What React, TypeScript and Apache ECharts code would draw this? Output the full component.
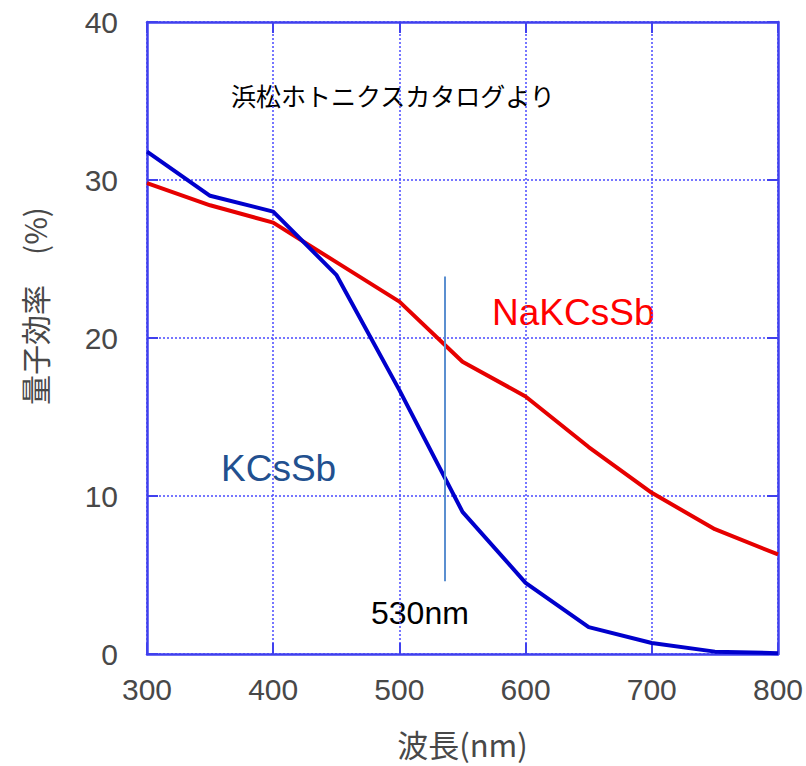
import React, { useEffect, useRef } from "react";
import * as echarts from "echarts";

const wavelengths = [300, 350, 400, 450, 500, 550, 600, 650, 700, 750, 800];
const kcssb = [31.8, 29.0, 28.0, 24.0, 16.7, 9.0, 4.5, 1.7, 0.7, 0.15, 0.05];
const nakcssb = [29.8, 28.4, 27.3, 24.8, 22.3, 18.5, 16.3, 13.1, 10.2, 7.9, 6.3];
const markerX = 536;
const markerRange = [4.6, 23.9];
const xTicks = { min: 300, max: 800, interval: 100 };
const yTicks = { min: 0, max: 40, interval: 10 };

const AXIS_BLUE = "#4040ee";
const GRID_BLUE = "#4a4aff";

export default function App() {
  const ref = useRef<HTMLDivElement>(null);
  useEffect(() => {
    if (!ref.current) return;
    const chart = echarts.init(ref.current, undefined, { renderer: "svg" });
    const axisLine = { show: true, onZero: false, lineStyle: { color: AXIS_BLUE, width: 2.5 } };
    const tickInside = { show: true, inside: true, length: 11, lineStyle: { color: AXIS_BLUE, width: 2 } };
    const labelStyle = {
      fontFamily: "Liberation Sans",
      fontSize: 30,
      color: "#484848",
    };
    const splitLine = { show: true, lineStyle: { color: GRID_BLUE, width: 1.5, type: [2, 2] as any } };
    chart.setOption({
      animation: false,
      backgroundColor: "#ffffff",
      grid: { left: 147, right: 28, top: 22, bottom: 112, containLabel: false },
      xAxis: [
        {
          type: "value",
          ...xTicks,
          position: "bottom",
          axisLine,
          axisTick: tickInside,
          splitLine,
          axisLabel: { ...labelStyle, margin: 20 },
          name: "波長(nm)",
          nameLocation: "middle",
          nameGap: 74,
          nameTextStyle: { fontFamily: "Noto Sans CJK JP", fontSize: 31, color: "#484848" },
        },
        {
          type: "value",
          ...xTicks,
          position: "top",
          axisLine,
          axisTick: tickInside,
          splitLine: { show: false },
          axisLabel: { show: false },
        },
      ],
      yAxis: [
        {
          type: "value",
          ...yTicks,
          position: "left",
          axisLine,
          axisTick: tickInside,
          splitLine,
          axisLabel: { ...labelStyle, margin: 29 },
        },
        {
          type: "value",
          ...yTicks,
          position: "right",
          axisLine,
          axisTick: tickInside,
          splitLine: { show: false },
          axisLabel: { show: false },
        },
      ],
      graphic: [
        {
          type: "text",
          x: 34,
          y: 306,
          rotation: Math.PI / 2,
          style: {
            text: "量子効率　(%)",
            fontFamily: "Noto Sans CJK JP",
            fontSize: 30,
            fill: "#484848",
            textAlign: "center",
            textVerticalAlign: "middle",
          },
        },
        {
          type: "text",
          x: 231,
          y: 95,
          style: {
            text: "浜松ホトニクスカタログより",
            fontFamily: "Noto Sans CJK JP",
            fontSize: 25,
            fill: "#000000",
            textAlign: "left",
            textVerticalAlign: "middle",
          },
        },
        {
          type: "text",
          x: 492,
          y: 312,
          style: {
            text: "NaKCsSb",
            fontFamily: "Liberation Sans",
            fontSize: 37,
            fill: "#ff0000",
            textAlign: "left",
            textVerticalAlign: "middle",
          },
        },
        {
          type: "text",
          x: 221,
          y: 468,
          style: {
            text: "KCsSb",
            fontFamily: "Liberation Sans",
            fontSize: 37,
            fill: "#22508f",
            textAlign: "left",
            textVerticalAlign: "middle",
          },
        },
        {
          type: "text",
          x: 371,
          y: 613,
          style: {
            text: "530nm",
            fontFamily: "Liberation Sans",
            fontSize: 32,
            fill: "#000000",
            textAlign: "left",
            textVerticalAlign: "middle",
          },
        },
      ],
      series: [
        {
          name: "NaKCsSb",
          type: "line",
          data: wavelengths.map((w, i) => [w, nakcssb[i]]),
          symbol: "none",
          lineStyle: { color: "#e60000", width: 4 },
          z: 3,
        },
        {
          name: "KCsSb",
          type: "line",
          data: wavelengths.map((w, i) => [w, kcssb[i]]),
          symbol: "none",
          lineStyle: { color: "#0000cc", width: 4 },
          z: 4,
          markLine: {
            silent: true,
            symbol: "none",
            label: { show: false },
            lineStyle: { color: "#5b8fd0", width: 2, type: "solid" },
            data: [
              [
                { coord: [markerX, markerRange[0]] },
                { coord: [markerX, markerRange[1]] },
              ],
            ],
          },
        },
      ],
    });
    return () => chart.dispose();
  }, []);
  return (
    <div
      ref={ref}
      style={{ position: "fixed", left: 0, top: 0, width: 806, height: 766 }}
    />
  );
}
